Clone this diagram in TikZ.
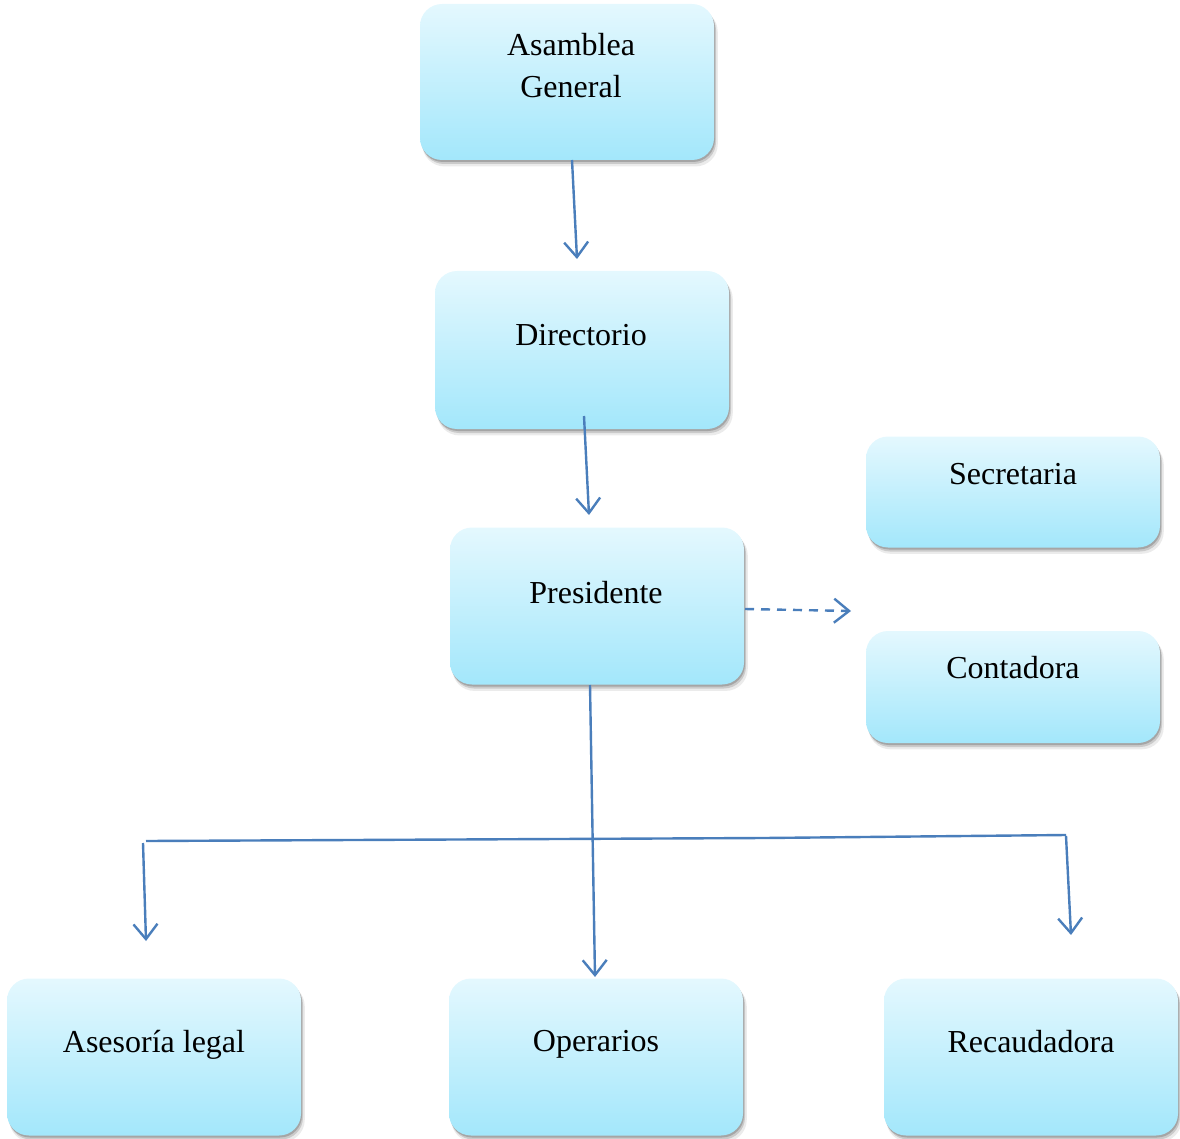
\documentclass[tikz,border=0pt]{standalone}
\usepackage{fontspec}
\setmainfont{Liberation Serif}
\usetikzlibrary{arrows.meta,shadows}
\definecolor{boxtop}{HTML}{E4F8FE}
\definecolor{boxbot}{HTML}{A3E7FB}
\definecolor{linkblue}{HTML}{4A7EBB}
\begin{document}
\begin{tikzpicture}[x=1pt,y=-1pt,
  softshadow/.style={
    drop shadow={shadow xshift=1pt, shadow yshift=-2pt, opacity=0.18, fill=black},
    drop shadow={shadow xshift=2pt, shadow yshift=-4pt, opacity=0.14, fill=black},
    drop shadow={shadow xshift=3pt, shadow yshift=-6pt, shadow scale=1.005, opacity=0.08, fill=black}},
  orgbox/.style={rectangle, rounded corners=22pt, draw=none,
    top color=boxtop, bottom color=boxbot,
    minimum width=294pt, inner sep=0pt, softshadow},
  boxtext/.style={font=\fontsize{32}{42}\selectfont, align=center, inner sep=0pt},
  link/.style={draw=linkblue, line width=2.4pt,
    -{Straight Barb[length=15pt,width=24pt,line width=2.4pt]}},
  bar/.style={draw=linkblue, line width=2.4pt}]
\useasboundingbox (0,0) rectangle (1180,1139);

% boxes
\node[orgbox, minimum height=156pt] (asam) at (567,82) {};
\node[boxtext] (asamt) at (571,66) {Asamblea\\General};
\node[orgbox, minimum height=158pt] (dir) at (582,350) {};
\node[boxtext] (dirt) at (581,335) {Directorio};
\node[orgbox, minimum height=157pt] (pres) at (597,606) {};
\node[boxtext] (prest) at (596,593) {Presidente};
\node[orgbox, minimum height=111pt] (sec) at (1013,492) {};
\node[boxtext] (sect) at (1013,474) {Secretaria};
\node[orgbox, minimum height=112pt] (cont) at (1013,687) {};
\node[boxtext] (contt) at (1013,668) {Contadora};
\node[orgbox, minimum height=157pt] (ases) at (154,1057) {};
\node[boxtext] (asest) at (154,1045) {Asesoría legal};
\node[orgbox, minimum height=157pt] (oper) at (596,1057) {};
\node[boxtext] (opert) at (596,1044) {Operarios};
\node[orgbox, minimum height=157pt] (reca) at (1031,1057) {};
\node[boxtext] (recat) at (1031,1042) {Recaudadora};

% connector end points
\coordinate (a1) at (572,160);
\coordinate (a2) at (577,259);
\coordinate (d1) at (584,416);
\coordinate (d2) at (589,515);
\coordinate (p1) at (745,609);
\coordinate (p2) at (851,611);
\coordinate (o1) at (590,685);
\coordinate (o2) at (595,977);
\coordinate (hl) at (146,841);
\coordinate (hm) at (764,838);
\coordinate (hr) at (1066,835);
\coordinate (l1) at (143,843);
\coordinate (l2) at (146,941);
\coordinate (r1) at (1066,836);
\coordinate (r2) at (1071,935);

% connectors
\draw[link] (a1) -- (a2);
\draw[link] (d1) -- (d2);
\draw[link, dash pattern=on 9pt off 7pt] (p1) -- (p2);
\draw[link] (o1) -- (o2);
\draw[bar] (hl) -- (hm) -- (hr);
\draw[link] (l1) -- (l2);
\draw[link] (r1) -- (r2);
\end{tikzpicture}
\end{document}
